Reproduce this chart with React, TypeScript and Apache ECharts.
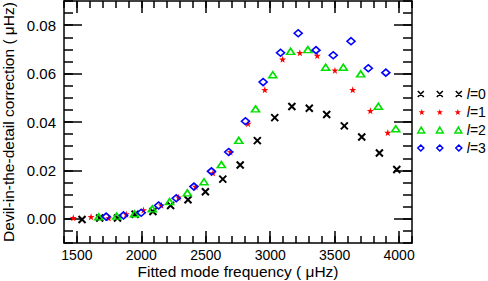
import React, { useEffect, useRef } from "react";
import * as echarts from "echarts";

// ---- data ----
const l0Freq = [1540, 1677, 1815, 1952, 2090, 2227, 2362, 2497, 2632, 2767, 2900, 3035, 3168, 3303, 3438, 3575, 3710, 3847, 3982];
const l0Val = [-0.0003, 0.0003, 0.0003, 0.0019, 0.003, 0.0055, 0.0079, 0.0112, 0.0164, 0.0222, 0.0323, 0.0418, 0.0464, 0.0457, 0.0431, 0.0384, 0.0338, 0.0272, 0.0204];

const l1Freq = [1472, 1610, 1747, 1883, 2017, 2155, 2289, 2421, 2556, 2691, 2828, 2958, 3096, 3230, 3365, 3502, 3640, 3777, 3912];
const l1Val = [0.0004, 0.0008, 0.0003, 0.0019, 0.0036, 0.0056, 0.0089, 0.0133, 0.0189, 0.0276, 0.0393, 0.0533, 0.0659, 0.0686, 0.0674, 0.0613, 0.0533, 0.0446, 0.0356];

const l2Freq = [1670, 1809, 1947, 2085, 2219, 2357, 2486, 2621, 2756, 2886, 3020, 3158, 3292, 3430, 3567, 3702, 3839, 3974];
const l2Val = [0.0008, 0.0011, 0.0021, 0.0041, 0.0071, 0.0107, 0.0153, 0.0224, 0.0324, 0.0454, 0.0595, 0.0692, 0.0699, 0.0626, 0.0626, 0.0599, 0.0465, 0.0372];

const l3Freq = [1727, 1862, 1999, 2134, 2271, 2408, 2544, 2678, 2808, 2945, 3080, 3217, 3355, 3489, 3627, 3761, 3897];
const l3Val = [0.0009, 0.0014, 0.0025, 0.0055, 0.0085, 0.0133, 0.0196, 0.0276, 0.0403, 0.0565, 0.0686, 0.0767, 0.0697, 0.0676, 0.0734, 0.0622, 0.0604];

const seriesNames = ["l=0", "l=1", "l=2", "l=3"];

const xMajorTicks = [1500, 2000, 2500, 3000, 3500, 4000];
const xMinorTicks = [1400, 1500, 1600, 1700, 1800, 1900, 2000, 2100, 2200, 2300, 2400, 2500, 2600, 2700, 2800, 2900, 3000, 3100, 3200, 3300, 3400, 3500, 3600, 3700, 3800, 3900, 4000, 4100];
const yMajorTicks = [0, 0.02, 0.04, 0.06, 0.08];
const yMinorTicks = [-0.01, -0.005, 0, 0.005, 0.01, 0.015, 0.02, 0.025, 0.03, 0.035, 0.04, 0.045, 0.05, 0.055, 0.06, 0.065, 0.07, 0.075, 0.08, 0.085, 0.09];

const X_MIN = 1400;
const X_MAX = 4100;
const Y_MIN = -0.01;
const Y_MAX = 0.09;

const xTitle = "Fitted mode frequency ( \u03bcHz)";
const yTitle = "Devil-in-the-detail correction ( \u03bcHz)";

// ---- styles ----
const FONT = "Liberation Sans";
const BLACK = "#000000";
const RED = "#ff0000";
const GREEN = "#00e000";
const BLUE = "#0000ff";

const crossPath = "path://M0 0L7 7M7 0L0 7";
const starPath = "path://M5 0L6.18 3.38L9.76 3.45L6.9 5.62L7.94 9.05L5 7L2.06 9.05L3.1 5.62L0.24 3.45L3.82 3.38Z";

const legendCross = "path://M0 0L6 6M6 0L0 6M19 0L25 6M25 0L19 6M38 0L44 6M44 0L38 6";
const star = (dx: number) => {
  const pts = [[5, 0], [6.18, 3.38], [9.76, 3.45], [6.9, 5.62], [7.94, 9.05], [5, 7], [2.06, 9.05], [3.1, 5.62], [0.24, 3.45], [3.82, 3.38]];
  return "M" + pts.map((p) => `${(p[0] * 0.7 + dx).toFixed(2)} ${(p[1] * 0.7).toFixed(2)}`).join("L") + "Z";
};
const legendStar = "path://" + star(0) + star(19) + star(38);
const tri = (dx: number) => `M${dx + 3.5} 0L${dx + 7} 6L${dx} 6Z`;
const legendTri = "path://" + tri(0) + tri(19) + tri(38);
const dia = (dx: number) => `M${dx + 3} 0L${dx + 6} 3L${dx + 3} 6L${dx} 3Z`;
const legendDia = "path://" + dia(0) + dia(19) + dia(38);

function pairs(f: number[], v: number[]) {
  return f.map((x, i) => [x, v[i]]);
}

export default function App() {
  const ref = useRef<HTMLDivElement>(null);
  useEffect(() => {
    const chart = echarts.init(ref.current!, null, { renderer: "svg" });
    const lineStyle = { color: BLACK, width: 1.5 };
    const gridRect = { left: 64, top: 1, width: 348, height: 242, containLabel: false, outerBoundsMode: "none" };

    const xAxisBase = (grid: number, pos: string, len: number, ticks: number[], showLine: boolean, labels: boolean, named: boolean) => ({
      type: "value",
      gridIndex: grid,
      position: pos,
      min: X_MIN,
      max: X_MAX,
      splitLine: { show: false },
      axisLine: { show: showLine, onZero: false, lineStyle },
      axisTick: { show: true, inside: true, length: len, customValues: ticks, lineStyle },
      axisLabel: labels
        ? {
            show: true,
            customValues: ticks,
            color: BLACK,
            fontSize: 14,
            fontFamily: FONT,
            margin: 5,
            formatter: (v: number) => String(v),
          }
        : { show: false },
      name: named ? xTitle : "",
      nameLocation: "middle",
      nameGap: 20,
      nameMoveOverlap: false,
      nameTextStyle: { color: BLACK, fontSize: 15.5, fontFamily: FONT },
    });
    const yAxisBase = (grid: number, pos: string, len: number, ticks: number[], showLine: boolean, labels: boolean, named: boolean) => ({
      type: "value",
      gridIndex: grid,
      position: pos,
      min: Y_MIN,
      max: Y_MAX,
      splitLine: { show: false },
      axisLine: { show: showLine, onZero: false, lineStyle },
      axisTick: { show: true, inside: true, length: len, customValues: ticks, lineStyle },
      axisLabel: labels
        ? {
            show: true,
            customValues: ticks,
            color: BLACK,
            fontSize: 15,
            fontFamily: FONT,
            margin: 8,
            formatter: (v: number) => v.toFixed(2),
          }
        : { show: false },
      name: named ? yTitle : "",
      nameLocation: "middle",
      nameGap: 48,
      nameRotate: 90,
      nameMoveOverlap: false,
      nameTextStyle: { color: BLACK, fontSize: 15.5, fontFamily: FONT },
    });

    const option: any = {
      animation: false,
      backgroundColor: "#ffffff",
      textStyle: { fontFamily: FONT },
      grid: [
        { ...gridRect },
        { ...gridRect },
      ],
      xAxis: [
        xAxisBase(0, "bottom", 12, xMajorTicks, true, true, true),
        xAxisBase(0, "top", 12, xMajorTicks, true, false, false),
        xAxisBase(1, "bottom", 7, xMinorTicks, false, false, false),
        xAxisBase(1, "top", 7, xMinorTicks, false, false, false),
      ],
      yAxis: [
        yAxisBase(0, "left", 18, yMajorTicks, true, true, true),
        yAxisBase(0, "right", 18, yMajorTicks, true, false, false),
        yAxisBase(1, "left", 9, yMinorTicks, false, false, false),
        yAxisBase(1, "right", 9, yMinorTicks, false, false, false),
      ],
      legend: {
        orient: "vertical",
        left: 417,
        top: 87,
        padding: 0,
        itemWidth: 44,
        itemHeight: 6,
        itemGap: 4,
        selectedMode: false,
        formatter: (name: string) => `{i|l}${name.slice(1)}`,
        textStyle: {
          color: BLACK,
          fontSize: 14,
          fontFamily: FONT,
          rich: { i: { fontStyle: "italic", fontSize: 14, fontFamily: FONT, color: BLACK } },
        },
        data: [
          { name: seriesNames[0], icon: legendCross, itemStyle: { color: "transparent", borderColor: BLACK, borderWidth: 1.6 } },
          { name: seriesNames[1], icon: legendStar, itemStyle: { color: RED, borderWidth: 0 } },
          { name: seriesNames[2], icon: legendTri, itemStyle: { color: "transparent", borderColor: GREEN, borderWidth: 1.5 } },
          { name: seriesNames[3], icon: legendDia, itemStyle: { color: "transparent", borderColor: BLUE, borderWidth: 1.5 } },
        ],
      },
      series: [
        {
          name: seriesNames[0],
          type: "scatter",
          xAxisIndex: 0,
          yAxisIndex: 0,
          symbol: crossPath,
          symbolSize: 7,
          itemStyle: { color: "transparent", borderColor: BLACK, borderWidth: 2, opacity: 1 },
          data: pairs(l0Freq, l0Val),
        },
        {
          name: seriesNames[1],
          type: "scatter",
          xAxisIndex: 0,
          yAxisIndex: 0,
          symbol: starPath,
          symbolSize: 7,
          itemStyle: { color: RED, opacity: 1 },
          data: pairs(l1Freq, l1Val),
        },
        {
          name: seriesNames[2],
          type: "scatter",
          xAxisIndex: 0,
          yAxisIndex: 0,
          symbol: "triangle",
          symbolSize: [8, 6],
          itemStyle: { color: "transparent", borderColor: GREEN, borderWidth: 1.6, opacity: 1 },
          data: pairs(l2Freq, l2Val),
        },
        {
          name: seriesNames[3],
          type: "scatter",
          xAxisIndex: 0,
          yAxisIndex: 0,
          symbol: "diamond",
          symbolSize: [8, 7],
          itemStyle: { color: "transparent", borderColor: BLUE, borderWidth: 1.6, opacity: 1 },
          data: pairs(l3Freq, l3Val),
        },
      ],
    };
    chart.setOption(option);
    return () => chart.dispose();
  }, []);
  return <div ref={ref} style={{ position: "absolute", left: 0, top: 0, width: 488, height: 281 }} />;
}
